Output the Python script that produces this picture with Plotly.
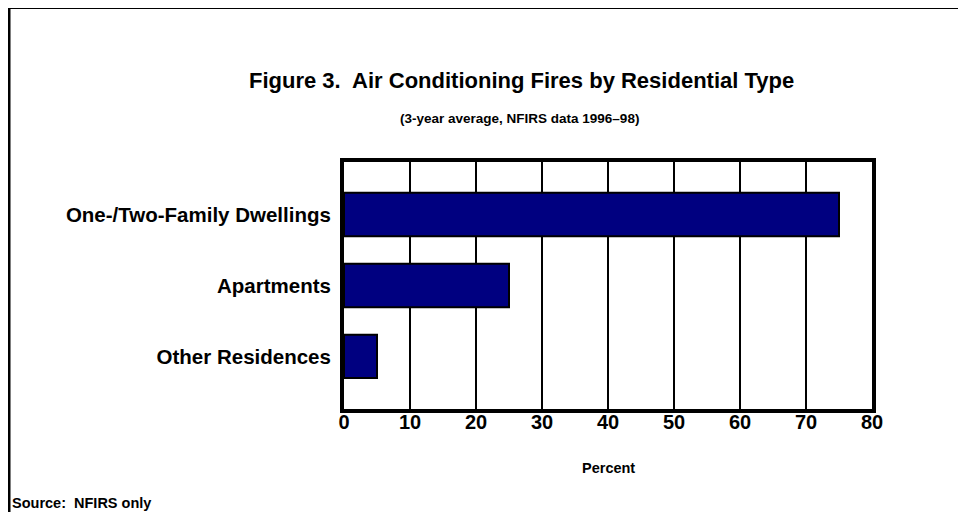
import plotly.graph_objects as go

categories = ["One-/Two-Family Dwellings", "Apartments", "Other Residences"]
percent = [75, 25, 5]
x_ticks = [0, 10, 20, 30, 40, 50, 60, 70, 80]

FONT = "Arial, Liberation Sans, sans-serif"

# page has an 8px body margin; layout below is in figure pixels
OFF = 8
W, H = 966, 512
l, t = 336, 154
pw, ph = 528, 247
r = W - l - pw
b = H - t - ph

def px(X):
    return (X - OFF - l) / pw

def py(Y):
    return (H - b - (Y - OFF)) / ph

fig = go.Figure()
fig.add_trace(go.Bar(
    y=categories, x=percent, orientation="h",
    marker=dict(color="#000080", line=dict(color="black", width=2)),
    width=0.61,
))

fig.update_layout(
    width=W, height=H,
    margin=dict(l=l, r=r, t=t, b=b),
    paper_bgcolor="white", plot_bgcolor="white",
    showlegend=False,
    font=dict(family=FONT, size=16, color="black"),
    xaxis=dict(
        range=[0, 80], tickvals=x_ticks, showgrid=True, gridcolor="black", gridwidth=2,
        zeroline=False, showline=True, linecolor="black", linewidth=4, mirror=True,
        ticks="", ticklabelstandoff=-8,
        tickfont=dict(family=FONT, size=20, color="black", weight="bold"),
    ),
    yaxis=dict(
        categoryorder="array", categoryarray=categories, autorange=False,
        range=[2.74, -0.74], showgrid=False, zeroline=False,
        showline=True, linecolor="black", linewidth=4, mirror=True,
        ticks="", ticklabelstandoff=5,
        tickfont=dict(family=FONT, size=20.5, color="black", weight="bold"),
    ),
)

fig.add_annotation(text="<b>Figure 3.  Air Conditioning Fires by Residential Type</b>",
                   x=px(521), y=py(80), xref="paper", yref="paper", showarrow=False,
                   xanchor="center", yanchor="middle",
                   font=dict(family=FONT, size=22, color="black"))
fig.add_annotation(text="<b>(3-year average, NFIRS data 1996\u201398)</b>",
                   x=px(519), y=py(118), xref="paper", yref="paper", showarrow=False,
                   xanchor="center", yanchor="middle",
                   font=dict(family=FONT, size=13.5, color="black"))
fig.add_annotation(text="<b>Percent</b>",
                   x=px(608), y=py(468), xref="paper", yref="paper", showarrow=False,
                   xanchor="center", yanchor="middle",
                   font=dict(family=FONT, size=14.5, color="black"))
fig.add_annotation(text="<b>Source:  NFIRS only</b>",
                   x=px(10), y=py(503), xref="paper", yref="paper", showarrow=False,
                   xanchor="left", yanchor="middle",
                   font=dict(family=FONT, size=14.5, color="black"))

# outer frame (left and top visible, cropped on right/bottom)
fig.add_shape(type="line", xref="paper", yref="paper",
              x0=px(9), x1=px(980), y0=py(7.5), y1=py(7.5),
              line=dict(color="black", width=3))
fig.add_shape(type="line", xref="paper", yref="paper",
              x0=px(9), x1=px(9), y0=py(7.5), y1=py(530),
              line=dict(color="black", width=3))

fig.write_html("out.html")
